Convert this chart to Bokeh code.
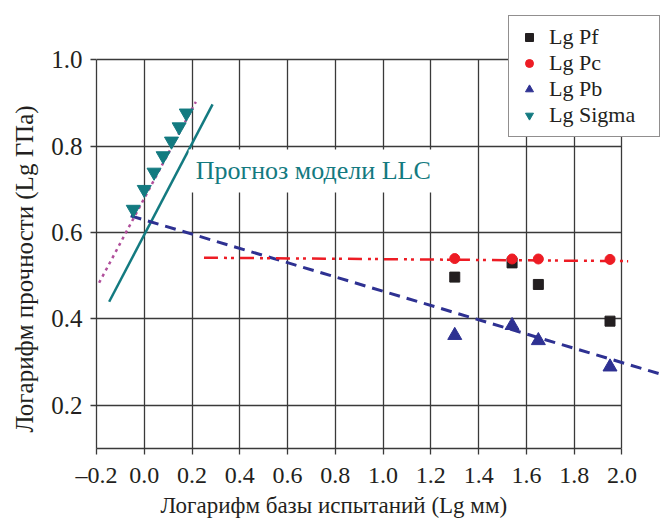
from bokeh.plotting import figure
from bokeh.models import FixedTicker, Label, Legend, LegendItem, Range1d, Title
from bokeh.embed import file_html
from bokeh.resources import INLINE

# ---- data ----
pf_x = [1.30, 1.54, 1.65, 1.95]
pf_y = [0.497, 0.530, 0.480, 0.395]
pc_x = [1.30, 1.54, 1.65, 1.95]
pc_y = [0.540, 0.539, 0.539, 0.538]
pb_x = [1.30, 1.54, 1.65, 1.95]
pb_y = [0.362, 0.385, 0.350, 0.289]
sigma_x = [-0.046, 0.0, 0.041, 0.079, 0.114, 0.146, 0.176]
sigma_y = [0.654, 0.700, 0.740, 0.778, 0.812, 0.845, 0.877]

# trend / model lines (end points)
llc_x = [-0.147, 0.286]
llc_y = [0.440, 0.897]
sigma_fit_x = [-0.189, 0.216]
sigma_fit_y = [0.484, 0.903]
pb_fit_x = [-0.057, 2.176]
pb_fit_y = [0.639, 0.270]
pc_fit_x = [0.25, 2.026]
pc_fit_y = [0.542, 0.534]

x_ticks = [-0.2, 0.0, 0.2, 0.4, 0.6, 0.8, 1.0, 1.2, 1.4, 1.6, 1.8, 2.0]
x_tick_labels = ["\u20130.2", "0.0", "0.2", "0.4", "0.6", "0.8", "1.0",
                 "1.2", "1.4", "1.6", "1.8", "2.0"]
y_ticks = [0.2, 0.4, 0.6, 0.8, 1.0]
y_tick_labels = ["0.2", "0.4", "0.6", "0.8", "1.0"]

x_title = "Логарифм базы испытаний (Lg мм)"
y_title = "Логарифм прочности (Lg ГПа)"
model_note = "Прогноз модели LLC"
legend_labels = ["Lg Pf", "Lg Pc", "Lg Pb", "Lg Sigma"]

FONT = "Liberation Serif"
TXT = "#231f20"
BLACK = "#231f20"
RED = "#ed1c24"
BLUE = "#2e3192"
TEAL = "#137a80"
MAGENTA = "#b04f9b"
GRID = "#3a3a3a"

p = figure(width=663, height=520, output_backend="svg", toolbar_location=None,
           x_range=Range1d(-0.2, 2.174), y_range=Range1d(0.1, 1.110),
           min_border_left=96, min_border_right=0, min_border_top=12,
           min_border_bottom=72)
p.outline_line_color = None
p.background_fill_color = "white"
p.border_fill_color = "white"

# axes
for ax, ticks, labels, bounds in ((p.xaxis[0], x_ticks, x_tick_labels, (-0.2, 2.0)),
                                  (p.yaxis[0], y_ticks, y_tick_labels, (0.1, 1.0))):
    ax.ticker = FixedTicker(ticks=ticks)
    ax.major_label_overrides = {t: l for t, l in zip(ticks, labels)}
    ax.bounds = bounds
    ax.axis_line_color = GRID
    ax.axis_line_width = 1.3
    ax.major_tick_line_color = GRID
    ax.major_tick_line_width = 1.3
    ax.major_tick_out = 6
    ax.major_tick_in = 0
    ax.minor_tick_line_color = None
    ax.major_label_text_font = FONT
    ax.major_label_text_color = TXT
p.xaxis[0].major_label_text_font_size = "24px"
p.yaxis[0].major_label_text_font_size = "25px"
p.xaxis[0].major_label_standoff = 7
p.yaxis[0].major_label_standoff = 8

# grids
p.xgrid[0].ticker = FixedTicker(ticks=x_ticks)
p.ygrid[0].ticker = FixedTicker(ticks=y_ticks)
for g in (p.xgrid[0], p.ygrid[0]):
    g.grid_line_color = GRID
    g.grid_line_width = 1.3
    g.grid_line_alpha = 1.0
try:
    p.xgrid[0].cross_bounds = (0.1, 1.0)
    p.ygrid[0].cross_bounds = (-0.2, 2.0)
except Exception:
    pass
p.xgrid[0].bounds = (-0.2, 2.0)
p.ygrid[0].bounds = (0.1, 1.0)

# lines
p.line(sigma_fit_x, sigma_fit_y, line_color=MAGENTA, line_width=2.5, line_dash="3 4")
p.line(llc_x, llc_y, line_color=TEAL, line_width=2.5)
p.line(pb_fit_x, pb_fit_y, line_color=BLUE, line_width=3, line_dash="11 7")
p.line(pc_fit_x, pc_fit_y, line_color=RED, line_width=2.5, line_dash="14 6 3 4 3 6")

# points
r_pf = p.scatter(pf_x, pf_y, marker="square", size=10, fill_color=BLACK, line_color=BLACK)
r_pc = p.scatter(pc_x, pc_y, marker="circle", size=10, fill_color=RED, line_color=RED)
r_pb = p.scatter(pb_x, pb_y, marker="triangle", size=14, fill_color=BLUE, line_color=BLUE)
r_sg = p.scatter(sigma_x, sigma_y, marker="inverted_triangle", size=14,
                 fill_color=TEAL, line_color=TEAL)

# annotation text
p.add_layout(Label(x=0.186, y=0.743, text=model_note, text_font=FONT,
                   text_font_size="26px", text_color=TEAL, text_baseline="middle",
                   text_align="left", background_fill_color="white", padding=7))

# axis titles
p.add_layout(Title(text=x_title, align="left", offset=64, standoff=0,
                   text_font=FONT, text_font_size="23px", text_font_style="normal",
                   text_color=TXT), "below")
p.add_layout(Title(text=y_title, align="left", offset=16, standoff=18,
                   vertical_align="top",
                   text_font=FONT, text_font_size="25px", text_font_style="normal",
                   text_color=TXT), "left")

legend = Legend(items=[LegendItem(label=legend_labels[0], renderers=[r_pf]),
                       LegendItem(label=legend_labels[1], renderers=[r_pc]),
                       LegendItem(label=legend_labels[2], renderers=[r_pb]),
                       LegendItem(label=legend_labels[3], renderers=[r_sg])],
                location="top_right", margin=3, padding=8, spacing=0,
                glyph_width=24, glyph_height=20, label_height=20, label_standoff=8,
                label_width=102,
                label_text_font=FONT, label_text_font_size="22px",
                label_text_color=TXT, border_line_color=TXT,
                border_line_width=1.2, background_fill_color="white",
                background_fill_alpha=1.0)
p.add_layout(legend)

open("out.html", "w").write(file_html(p, INLINE))
